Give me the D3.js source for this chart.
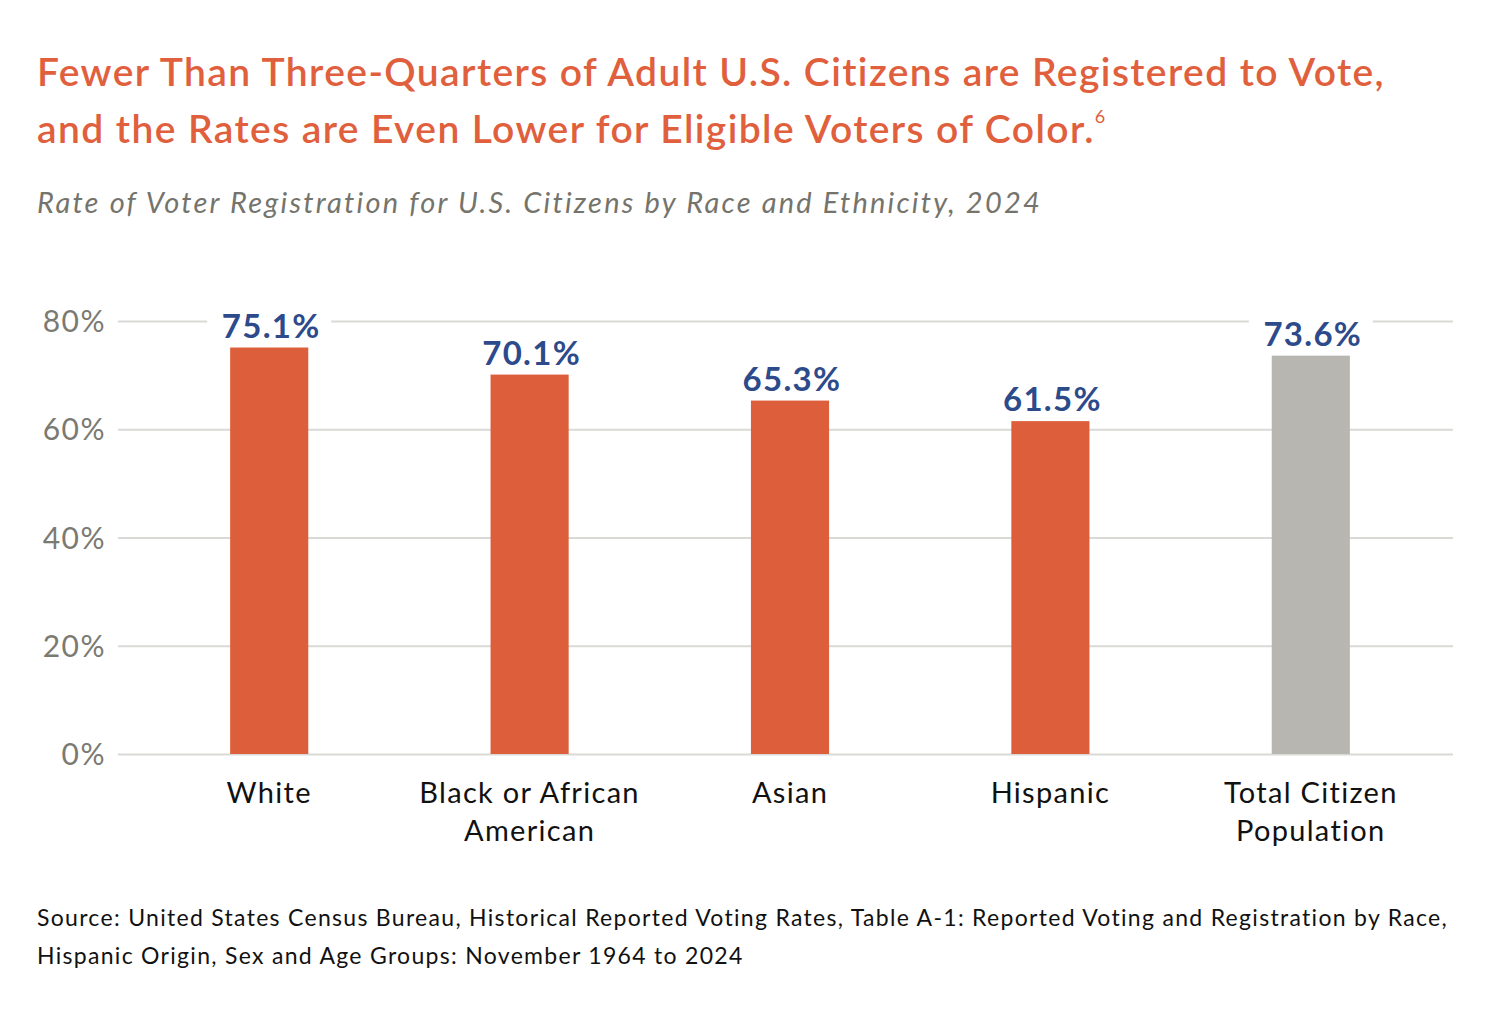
<!DOCTYPE html>
<html lang="en">
<head>
<meta charset="utf-8">
<title>Voter Registration by Race and Ethnicity</title>
<script src="https://d3js.org/d3.v7.min.js"></script>
<style>
    body { margin: 0; background: #fff; }
    svg { display: block; }
</style>
</head>
<body>
<script>
    // data
    var categories = [["White"], ["Black or African", "American"], ["Asian"], ["Hispanic"], ["Total Citizen", "Population"]];
    var values = [75.1, 70.1, 65.3, 61.5, 73.6];
    var barColors = ["#dc5e3a", "#dc5e3a", "#dc5e3a", "#dc5e3a", "#b7b6b1"];
    var yTicks = [0, 20, 40, 60, 80];
    var sourceLines = [
        "Source: United States Census Bureau, Historical Reported Voting Rates, Table A-1: Reported Voting and Registration by Race,",
        "Hispanic Origin, Sex and Age Groups: November 1964 to 2024"
    ];

    var width = 1494, height = 1020;
    var svg = d3.select("body").append("svg")
        .attr("width", width)
        .attr("height", height);

    // title
    var title = svg.append("text")
        .attr("x", 37)
        .attr("font-family", "Lato, sans-serif")
        .attr("font-weight", 600)
        .attr("font-size", 39)
        .attr("letter-spacing", 1.4)
        .attr("fill", "#e0603d");
    title.append("tspan").attr("x", 37).attr("y", 86)
        .text("Fewer Than Three-Quarters of Adult U.S. Citizens are Registered to Vote,");
    var t2 = title.append("tspan").attr("x", 37).attr("y", 143)
        .text("and the Rates are Even Lower for Eligible Voters of Color.");
    t2.append("tspan").attr("dy", -20).attr("font-size", 18).attr("font-weight", 400).text("6");

    svg.append("text")
        .attr("x", 37).attr("y", 213)
        .attr("font-family", "Lato, sans-serif")
        .attr("font-style", "italic")
        .attr("font-size", 29)
        .attr("letter-spacing", 2.2)
        .attr("fill", "#75746c")
        .text("Rate of Voter Registration for U.S. Citizens by Race and Ethnicity, 2024");

    var x = d3.scaleBand()
        .domain(d3.range(values.length))
        .range([139, 1441])
        .paddingInner(0.7)
        .paddingOuter(0.35);

    var y = d3.scaleLinear()
        .domain([0, 80])
        .range([754, 321]);

    // gridlines
    var yAxis = svg.append("g")
        .attr("transform", "translate(118,0)")
        .call(d3.axisLeft(y).tickValues(yTicks).tickSize(-(1453 - 118)).tickFormat(d => d + "%"));
    yAxis.select(".domain").remove();
    yAxis.selectAll(".tick line").attr("stroke", "#d9d9d6").attr("stroke-width", 2);
    yAxis.selectAll(".tick text")
        .attr("x", -12)
        .attr("dy", "0.35em")
        .attr("font-family", "Lato, sans-serif")
        .attr("font-size", 30)
        .attr("letter-spacing", 1.5)
        .attr("fill", "#7b7a72");

    // bars
    svg.append("g").selectAll("rect")
        .data(values)
        .join("rect")
        .attr("x", (d, i) => x(i))
        .attr("y", d => y(d))
        .attr("width", x.bandwidth())
        .attr("height", d => y(0) - y(d))
        .attr("fill", (d, i) => barColors[i]);

    // value labels with white backing to break gridlines
    var labels = svg.append("g").selectAll("g")
        .data(values)
        .join("g")
        .attr("transform", (d, i) => "translate(" + (x(i) + x.bandwidth() / 2) + "," + (y(d) - 10) + ")");
    labels.append("rect")
        .attr("x", -62).attr("y", -32)
        .attr("width", 124).attr("height", 36)
        .attr("fill", "#fff");
    labels.append("text")
        .attr("x", 2)
        .attr("text-anchor", "middle")
        .attr("font-family", "Lato, sans-serif")
        .attr("font-weight", 700)
        .attr("font-size", 33)
        .attr("letter-spacing", 1.3)
        .attr("fill", "#2d4a8b")
        .text(d => d.toFixed(1) + "%");

    // category labels
    var cats = svg.append("g").selectAll("text")
        .data(categories)
        .join("text")
        .attr("x", (d, i) => x(i) + x.bandwidth() / 2)
        .attr("y", 803)
        .attr("text-anchor", "middle")
        .attr("font-family", "Lato, sans-serif")
        .attr("font-size", 29)
        .attr("letter-spacing", 1.3)
        .attr("fill", "#111");
    cats.selectAll("tspan")
        .data(d => d)
        .join("tspan")
        .attr("x", function () { return this.parentNode.getAttribute("x"); })
        .attr("dy", (d, i) => i === 0 ? 0 : 38)
        .text(d => d);

    // source
    svg.append("g").selectAll("text")
        .data(sourceLines)
        .join("text")
        .attr("x", 37)
        .attr("y", (d, i) => 926 + i * 38)
        .attr("font-family", "Lato, sans-serif")
        .attr("font-size", 23)
        .attr("letter-spacing", 1.3)
        .attr("fill", "#111")
        .text(d => d);
</script>
</body>
</html>
